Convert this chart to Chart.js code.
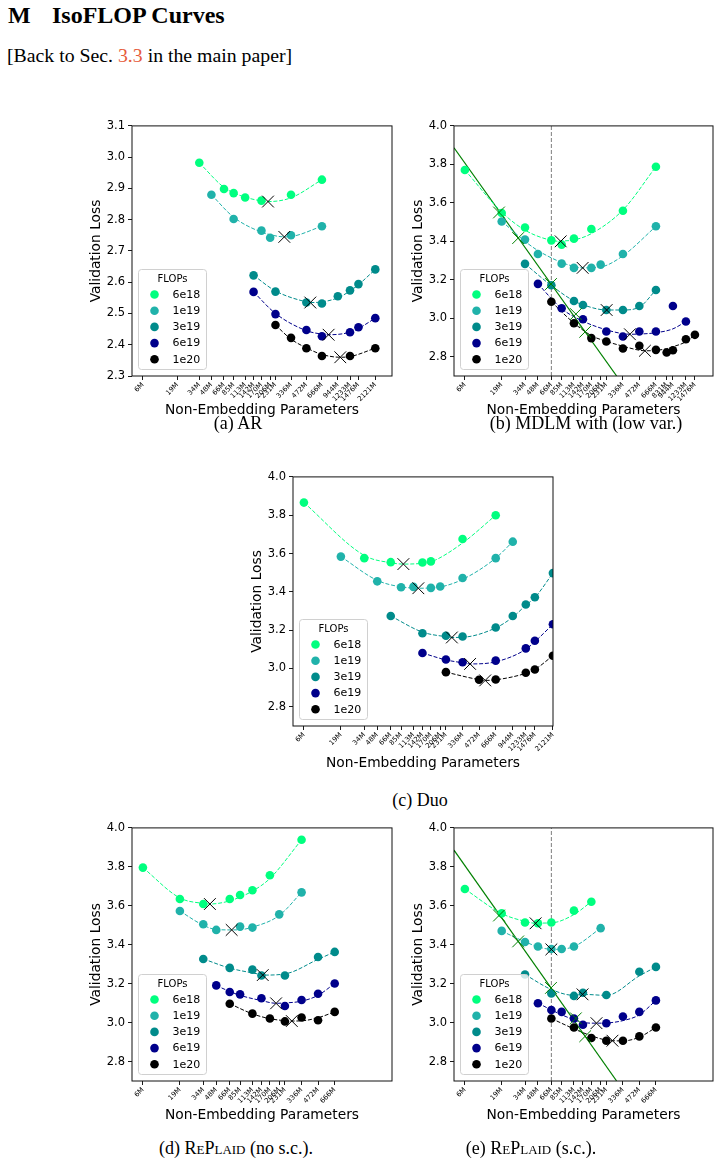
<!DOCTYPE html>
<html><head><meta charset="utf-8">
<script src="https://cdn.jsdelivr.net/npm/chart.js@4.4.0/dist/chart.umd.min.js"></script>
<style>
html,body{margin:0;padding:0;background:#fff;}
body{width:720px;height:1164px;position:relative;overflow:hidden;font-family:'Liberation Serif','Times New Roman',serif;color:#000;}
.t{position:absolute;white-space:nowrap;line-height:1;}
.cap{position:absolute;white-space:nowrap;line-height:1;font-size:18px;transform:translateX(-50%);}
.sc{font-variant:small-caps;}
canvas{position:absolute;}
</style></head><body>
<div class="t" style="left:8px;top:3px;font-size:24px;font-weight:bold;">M</div>
<div class="t" style="left:52px;top:3px;font-size:24px;font-weight:bold;">IsoFLOP Curves</div>
<div class="t" style="left:7px;top:46px;font-size:19.8px;">[Back to Sec. <span style="color:#e65c3c">3.3</span> in the main paper]</div>

<canvas id="ca" width="325" height="310" style="left:77px;top:116px;"></canvas>
<canvas id="cb" width="324" height="310" style="left:399px;top:116px;"></canvas>
<canvas id="cc" width="325" height="309" style="left:238px;top:467px;"></canvas>
<canvas id="cd" width="325" height="313" style="left:77px;top:818px;"></canvas>
<canvas id="ce" width="324" height="313" style="left:399px;top:818px;"></canvas>

<div class="cap" style="left:238px;top:414px;">(a) AR</div>
<div class="cap" style="left:586px;top:414px;">(b) MDLM with (low var.)</div>
<div class="cap" style="left:420px;top:791px;">(c) Duo</div>
<div class="cap" style="left:236px;top:1139px;">(d) <span class="sc">RePlaid</span> (no s.c.).</div>
<div class="cap" style="left:531px;top:1139px;">(e) <span class="sc">RePlaid</span> (s.c.).</div>

<script>
// ---------------- data ----------------
const sizeLabels = ['6M','19M','34M','48M','66M','85M','113M','142M','170M','206M','231M','336M','472M','666M','831M','944M','1233M','1476M','2121M'];
// position of each model size on the (log) x axis, in millions of total parameters
const axisParams = [13.6,29.4,47.9,62.8,83.2,103.2,133.5,161.2,192.2,233.5,263,372.3,525,743,930,1060.5,1392,1681,2450];
const flopLabels = ['6e18','1e19','3e19','6e19','1e20'];

const ticksFull = ['6M','19M','34M','48M','66M','85M','113M','142M','170M','206M','231M','336M','472M','666M','944M','1233M','1476M','2121M'];
const ticksB = ['6M','19M','34M','48M','66M','85M','113M','142M','170M','206M','231M','336M','472M','666M','831M','944M','1233M','1476M'];
const ticksSmall = ['6M','19M','34M','48M','66M','85M','113M','142M','170M','206M','231M','336M','472M','666M'];
const yTicksA = [2.3,2.4,2.5,2.6,2.7,2.8,2.9,3.0,3.1];
const yTicksOther = [2.8,3.0,3.2,3.4,3.6,3.8,4.0];

// (a) AR
const aSizes = [
  ['34M','66M','85M','113M','170M','336M','666M'],
  ['48M','85M','170M','206M','336M','666M'],
  ['142M','231M','472M','666M','944M','1233M','1476M','2121M'],
  ['142M','231M','472M','666M','1233M','1476M','2121M'],
  ['231M','336M','472M','666M','1233M','2121M']];
const aLoss = [
  [2.982,2.898,2.885,2.871,2.861,2.880,2.928],
  [2.880,2.802,2.765,2.742,2.750,2.779],
  [2.622,2.570,2.535,2.532,2.555,2.574,2.594,2.641],
  [2.569,2.498,2.447,2.427,2.440,2.456,2.485],
  [2.463,2.422,2.389,2.364,2.364,2.389]];
const aFit = [
  [2.982,2.903,2.886,2.872,2.860,2.870,2.928],
  [2.880,2.808,2.760,2.752,2.746,2.779],
  [2.622,2.572,2.537,2.537,2.550,2.572,2.592,2.641],
  [2.569,2.500,2.445,2.434,2.440,2.452,2.485],
  [2.463,2.418,2.390,2.369,2.362,2.389]];
const aOptX = [222.6,320.6,573,862.6,1120];
const aOptY = [2.858,2.745,2.535,2.432,2.360];

// (b) MDLM
const bSizes = [
  ['6M','19M','34M','66M','85M','113M','170M','336M','666M'],
  ['19M','34M','48M','85M','113M','170M','206M','336M','666M'],
  ['34M','66M','113M','142M','231M','336M','472M','666M'],
  ['48M','85M','142M','231M','336M','472M','666M','944M','1233M'],
  ['66M','113M','170M','231M','336M','472M','666M','831M','944M','1233M','1476M']];
const bLoss = [
  [3.771,3.547,3.472,3.405,3.383,3.414,3.464,3.559,3.788],
  [3.503,3.409,3.334,3.284,3.262,3.262,3.279,3.334,3.478],
  [3.283,3.172,3.090,3.069,3.043,3.043,3.064,3.147],
  [3.179,3.052,2.995,2.931,2.905,2.931,2.931,3.064,2.983],
  [3.086,2.974,2.897,2.879,2.843,2.857,2.836,2.822,2.834,2.891,2.914]];
const bFit = [
  [3.771,3.552,3.458,3.405,3.401,3.407,3.440,3.563,3.788],
  [3.505,3.400,3.352,3.290,3.270,3.263,3.266,3.325,3.478],
  [3.283,3.170,3.090,3.070,3.045,3.043,3.058,3.147],
  [3.179,3.050,2.985,2.940,2.920,2.918,2.925,2.945,2.983],
  [3.086,2.975,2.910,2.880,2.855,2.834,2.833,2.842,2.852,2.878,2.914]];
const bOptX = [101.1,160.2,264.8,431,590];
const bOptY = [3.400,3.262,3.043,2.917,2.831];

// (c) Duo
const cSizes = [
  ['6M','34M','66M','142M','170M','336M','666M'],
  ['19M','48M','85M','113M','170M','206M','336M','666M','944M'],
  ['66M','142M','231M','336M','666M','944M','1233M','1476M','2121M'],
  ['142M','231M','336M','666M','1233M','1476M','2121M'],
  ['231M','472M','666M','1233M','1476M','2121M']];
const cLoss = [
  [3.866,3.576,3.555,3.553,3.559,3.676,3.800],
  [3.584,3.455,3.424,3.426,3.421,3.428,3.472,3.576,3.662],
  [3.274,3.184,3.171,3.167,3.214,3.274,3.334,3.372,3.498],
  [3.081,3.047,3.033,3.041,3.105,3.145,3.231],
  [2.981,2.941,2.943,2.978,2.995,3.067]];
const cFit = [
  [3.866,3.590,3.552,3.549,3.556,3.655,3.800],
  [3.584,3.460,3.426,3.420,3.420,3.425,3.465,3.576,3.662],
  [3.274,3.190,3.166,3.163,3.212,3.268,3.330,3.370,3.498],
  [3.081,3.045,3.030,3.035,3.100,3.140,3.231],
  [2.981,2.942,2.941,2.975,2.995,3.067]];
const cOptX = [108.3,147.9,297.8,435.5,597];
const cOptY = [3.545,3.419,3.162,3.024,2.938];

// (d) RePlaid (no s.c.)
const dSizes = [
  ['6M','19M','34M','66M','85M','113M','170M','336M'],
  ['19M','34M','48M','85M','113M','206M','336M'],
  ['34M','66M','113M','142M','231M','472M','666M'],
  ['48M','66M','85M','142M','231M','336M','472M','666M'],
  ['66M','113M','170M','231M','336M','472M','666M']];
const dLoss = [
  [3.796,3.635,3.609,3.635,3.655,3.680,3.757,3.939],
  [3.573,3.505,3.476,3.493,3.488,3.556,3.669],
  [3.327,3.281,3.272,3.242,3.242,3.337,3.363],
  [3.191,3.157,3.145,3.125,3.085,3.116,3.148,3.201],
  [3.097,3.046,3.021,3.006,3.026,3.012,3.055]];
const dFit = [
  [3.796,3.640,3.612,3.625,3.645,3.675,3.740,3.939],
  [3.573,3.500,3.478,3.477,3.490,3.550,3.669],
  [3.327,3.280,3.255,3.246,3.250,3.325,3.363],
  [3.190,3.160,3.140,3.113,3.101,3.110,3.140,3.201],
  [3.097,3.045,3.020,3.010,3.009,3.025,3.055]];
const dOptX = [55,86.6,165.6,218.8,303.7];
const dOptY = [3.609,3.476,3.244,3.099,3.008];

// (e) RePlaid (s.c.)
const eSizes = [
  ['6M','19M','34M','48M','66M','113M','170M'],
  ['19M','34M','48M','66M','85M','113M','206M'],
  ['34M','66M','113M','142M','231M','472M','666M'],
  ['48M','66M','85M','113M','142M','231M','336M','472M','666M'],
  ['66M','113M','170M','231M','336M','472M','666M']];
const eLoss = [
  [3.686,3.561,3.514,3.510,3.514,3.575,3.621],
  [3.471,3.414,3.391,3.378,3.378,3.391,3.485],
  [3.247,3.150,3.137,3.153,3.142,3.261,3.286],
  [3.099,3.065,3.055,3.021,2.989,2.997,3.031,3.055,3.114],
  [3.021,2.975,2.921,2.907,2.907,2.929,2.975]];
const eFit = [
  [3.686,3.560,3.520,3.511,3.512,3.555,3.621],
  [3.470,3.415,3.390,3.377,3.378,3.390,3.485],
  [3.247,3.170,3.140,3.142,3.140,3.240,3.286],
  [3.100,3.065,3.040,3.015,3.000,2.998,3.010,3.040,3.114],
  [3.021,2.968,2.932,2.910,2.906,2.925,2.975]];
const eOptX = [59.8,83.2,159.8,214,299];
const eOptY = [3.510,3.376,3.145,2.997,2.907];

// compute-optimal frontier (b) and (e)
const frontierX = [10.83,326.5];
const frontierY = [3.886,2.70];
const frontierOptX = [27.8,41.5,82.5,139,169];
const frontierOptY = [3.550,3.417,3.178,3.022,2.930];
const refLineSize = '66M';

// ---------------- drawing ----------------
const flopColors = ['#00FF7F','#20B2AA','#008B8B','#00008B','#000000'];
const FONT = "'DejaVu Sans', sans-serif";
Chart.defaults.font.family = FONT;
Chart.defaults.color = '#000';
const pos = l => axisParams[sizeLabels.indexOf(l)];

function buildDatasets(sizes, loss, fit, optX, optY, extras) {
  const ds = [];
  ds.push({label:'opt', data: optX.map((x,i)=>({x, y: optY[i]})), showLine:false,
    pointStyle:'crossRot', pointRadius:8.3, pointBorderColor:'#000', pointBackgroundColor:'#000',
    pointBorderWidth:1, order:1});
  for (let i = 0; i < 5; i++) {
    const c = flopColors[i];
    let curve = sizes[i].map((s,j)=>({x: pos(s), y: fit[i][j]}))
      .filter(p => Math.abs(Math.log(p.x/optX[i])) > 0.02);
    curve.push({x: optX[i], y: optY[i]});
    curve.sort((p,q)=>p.x-q.x);
    ds.push({label:'fit'+i, data: curve, borderColor: c, borderWidth:1, borderDash:[4,1.8],
      pointRadius:0, cubicInterpolationMode:'monotone', fill:false, order:3});
    ds.push({label: flopLabels[i], isFlop:true, flopColor:c,
      data: sizes[i].map((s,j)=>({x: pos(s), y: loss[i][j]})), showLine:false,
      pointRadius:4.3, pointBackgroundColor:c, pointBorderColor:c, pointBorderWidth:0, order:2});
  }
  if (extras) {
    ds.push({label:'frontier', data: frontierX.map((x,i)=>({x, y: frontierY[i]})),
      borderColor:'#008000', borderWidth:1.2, pointRadius:0, order:4});
    ds.push({label:'frontierOpt', data: frontierOptX.map((x,i)=>({x, y: frontierOptY[i]})), showLine:false,
      pointStyle:'crossRot', pointRadius:8.3, pointBorderColor:'#008000', pointBorderWidth:1, order:1});
    ds.push({label:'ref', data:[{x: pos(refLineSize), y: 2.7},{x: pos(refLineSize), y: 4.0}],
      borderColor:'#7f7f7f', borderWidth:1, borderDash:[4,2], pointRadius:0, order:5});
  }
  return ds;
}

const framePlugin = {
  id:'frame',
  afterDatasetsDraw(chart) {
    const {ctx, chartArea:a} = chart;
    ctx.save();
    ctx.strokeStyle = '#111'; ctx.lineWidth = 1;
    ctx.strokeRect(a.left, a.top, a.right - a.left, a.bottom - a.top);
    ctx.restore();
  }
};
const legendPlugin = {
  id:'innerLegend',
  afterDraw(chart) {
    const {ctx, chartArea:a} = chart;
    const items = chart.data.datasets.filter(d => d.isFlop);
    const w = 68, h = 100, left = a.left + 6.5, top = a.bottom - 6.5 - h;
    ctx.save();
    ctx.beginPath();
    ctx.roundRect(left, top, w, h, 3);
    ctx.fillStyle = 'rgba(255,255,255,0.8)'; ctx.fill();
    ctx.strokeStyle = '#d0d0d0'; ctx.lineWidth = 1; ctx.stroke();
    ctx.fillStyle = '#000';
    ctx.textBaseline = 'middle';
    ctx.textAlign = 'center';
    ctx.font = "10px " + FONT;
    ctx.fillText('FLOPs', left + w/2, top + 9.5);
    ctx.textAlign = 'left';
    ctx.font = "11px " + FONT;
    items.forEach((d, i) => {
      const y = top + 25 + i * 16.2;
      ctx.beginPath(); ctx.arc(left + 16, y, 4.3, 0, Math.PI*2);
      ctx.fillStyle = d.flopColor; ctx.fill();
      ctx.fillStyle = '#000';
      ctx.fillText(d.label, left + 34, y + 0.5);
    });
    ctx.restore();
  }
};

function makeChart(id, datasets, xMin, xMax, tickLabels, yMin, yMax, yTicks, xTitlePad) {
  const grid = {display:true, drawOnChartArea:false, drawTicks:true, tickLength:4, color:'#000', lineWidth:0.9};
  return new Chart(document.getElementById(id), {
    type:'line',
    data:{datasets},
    options:{
      responsive:false, animation:false, devicePixelRatio:1,
      layout:{padding:{left:0, top:8, right:10, bottom:0}},
      plugins:{legend:{display:false}, tooltip:{enabled:false}},
      scales:{
        x:{type:'logarithmic', min:xMin, max:xMax,
          afterBuildTicks: s => { s.ticks = tickLabels.map(l => ({value: pos(l)})); },
          afterFit: s => { s.height = 50; },
          ticks:{autoSkip:false, minRotation:45, maxRotation:45, padding:1, color:'#000',
            font:{size:6.8}, callback:(v,i) => tickLabels[i]},
          grid, border:{display:false},
          title:{display:true, text:'Non-Embedding Parameters', color:'#000', font:{size:13.8},
            padding:{top:0, bottom:xTitlePad}}},
        y:{type:'linear', min:yMin, max:yMax,
          afterBuildTicks: s => { s.ticks = yTicks.map(v => ({value:v})); },
          afterFit: s => { s.width = 55; },
          ticks:{padding:3, color:'#000', font:{size:11.5}, callback: v => v.toFixed(1)},
          grid, border:{display:false},
          title:{display:true, text:'Validation Loss', color:'#000', font:{size:13.8},
            padding:{top:11.2, bottom:0}}}
      }
    },
    plugins:[framePlugin, legendPlugin]
  });
}

makeChart('ca', buildDatasets(aSizes,aLoss,aFit,aOptX,aOptY,false), 10.64, 3559, ticksFull, 2.3, 3.1, yTicksA, 7.8);
makeChart('cb', buildDatasets(bSizes,bLoss,bFit,bOptX,bOptY,true), 10.83, 2455, ticksB, 2.7, 4.0, yTicksOther, 7.8);
makeChart('cc', buildDatasets(cSizes,cLoss,cFit,cOptX,cOptY,false), 10.83, 2455, ticksFull, 2.7, 4.0, yTicksOther, 4.1);
makeChart('cd', buildDatasets(dSizes,dLoss,dFit,dOptX,dOptY,false), 10.83, 2455, ticksSmall, 2.7, 4.0, yTicksOther, 7.6);
makeChart('ce', buildDatasets(eSizes,eLoss,eFit,eOptX,eOptY,true), 10.83, 2455, ticksSmall, 2.7, 4.0, yTicksOther, 7.6);
</script>
</body></html>
